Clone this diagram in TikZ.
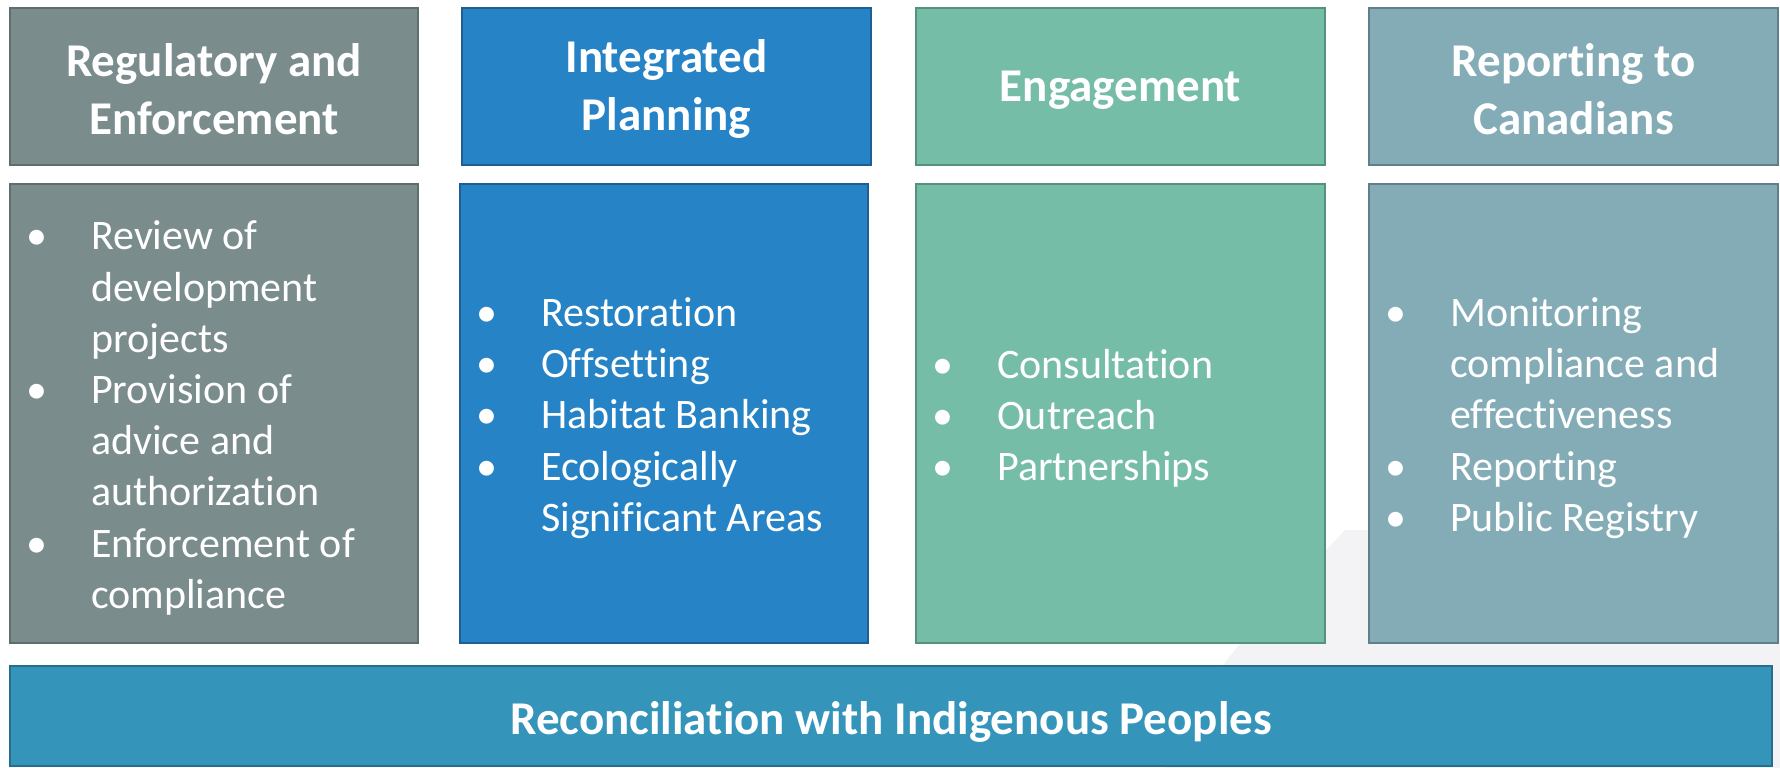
\documentclass[tikz,border=0pt]{standalone}
\usepackage{fontspec}
\setmainfont{Carlito}[Ligatures={NoCommon,NoContextual}]
\definecolor{regfill}{HTML}{7B8C8C}
\definecolor{regline}{HTML}{5E6E6E}
\definecolor{planfill}{HTML}{2683C6}
\definecolor{planline}{HTML}{1D5F92}
\definecolor{engfill}{HTML}{75BDA7}
\definecolor{engline}{HTML}{56907E}
\definecolor{repfill}{HTML}{84ACB6}
\definecolor{repline}{HTML}{5F808A}
\definecolor{recfill}{HTML}{3494BA}
\definecolor{recline}{HTML}{266E8C}
\definecolor{haze}{HTML}{F3F3F5}
\tikzset{
  panel/.style={draw=#1line, fill=#1fill, line width=2pt},
  headtext/.style={text=white, font=\bfseries\fontsize{47}{58}\selectfont, align=center, inner sep=0pt},
  listtext/.style={text=white, font=\fontsize{42}{51.2}\selectfont, align=left, inner sep=0pt, anchor=west},
}
% bullet line and continuation line of a list
\newcommand\bul{\makebox[61pt][l]{\hspace{7pt}\makebox[0pt]{•}}}
\newcommand\cont{\hspace*{61pt}}
\begin{document}
\begin{tikzpicture}[x=1pt,y=-1pt]
\useasboundingbox (0,0) rectangle (1780,768);
\fill[white] (0,0) rectangle (1780,768);
% soft backdrop shape in the lower right
\fill[haze] (1345,530) .. controls (1290,590) and (1200,670) .. (1165,768) -- (1780,768) -- (1780,530) -- cycle;

% column headers
\draw[panel=reg]  (10,8) rectangle (418,165);
\draw[panel=plan] (462,8) rectangle (871,165);
\draw[panel=eng]  (916,8) rectangle (1325,165);
\draw[panel=rep]  (1369,8) rectangle (1778,165);
\node[headtext] (h1) at (214,89) {Regulatory and\\Enforcement};
\node[headtext] (h2) at (666.5,89) {Integrated\\Planning};
\node[headtext] (h3) at (1120.5,90) {Engagement};
\node[headtext] (h4) at (1573.5,89) {Reporting to\\Canadians};

% column bodies
\draw[panel=reg]  (10,184) rectangle (418,643);
\draw[panel=plan] (460,184) rectangle (868,643);
\draw[panel=eng]  (916,184) rectangle (1325,643);
\draw[panel=rep]  (1369,184) rectangle (1778,643);

\node[listtext] (b1) at (30,418) {\bul Review of\\\cont development\\\cont projects\\\bul Provision of\\\cont advice and\\\cont authorization\\\bul Enforcement of\\\cont compliance};
\node[listtext] (b2) at (480,418) {\bul Restoration\\\bul Offsetting\\\bul Habitat Banking\\\bul Ecologically\\\cont Significant Areas};
\node[listtext] (b3) at (936,418) {\bul Consultation\\\bul Outreach\\\bul Partnerships};
\node[listtext] (b4) at (1389,418) {\bul Monitoring\\\cont compliance and\\\cont effectiveness\\\bul Reporting\\\bul Public Registry};

% foundation bar
\draw[panel=rec] (10,666) rectangle (1772,766);
\node[headtext] (rec) at (891,722) {Reconciliation with Indigenous Peoples};
\end{tikzpicture}
\end{document}
